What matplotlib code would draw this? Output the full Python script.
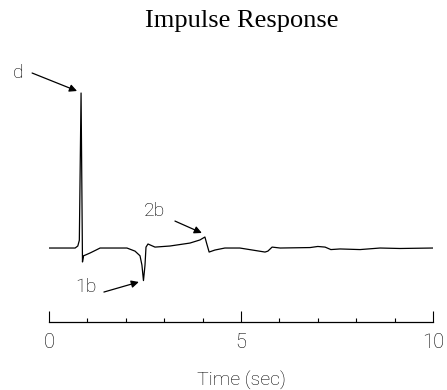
import matplotlib
matplotlib.use("Agg")
import matplotlib.pyplot as plt
from matplotlib.ticker import MultipleLocator

# --- data ---
time_sec = [0.0, 0.68, 0.75, 0.79, 0.835, 0.872, 0.90, 0.95, 1.07, 1.25, 1.33,
            2.03, 2.24, 2.37, 2.42, 2.46, 2.50, 2.526, 2.578, 2.76, 3.15, 3.67,
            3.93, 4.06, 4.11, 4.17, 4.32, 4.58, 4.97, 5.625, 5.70, 5.81, 6.02,
            6.8, 7.0, 7.19, 7.34, 7.58, 8.1, 8.62, 9.14, 10.0]
response = [0.0, 0.0, 0.013, 0.05, 1.0, -0.09, -0.05, -0.045, -0.032, -0.01, 0.0,
            0.0, -0.02, -0.05, -0.11, -0.21, -0.11, 0.006, 0.026, 0.006, 0.013, 0.032,
            0.052, 0.071, 0.026, -0.026, -0.013, 0.0, 0.0, -0.026, -0.02, 0.006, 0.0,
            0.003, 0.01, 0.006, -0.01, -0.006, -0.01, 0.0, -0.003, 0.0]

labels = ["d", "1b", "2b"]
label_pos = [(-0.81, 1.13), (0.96, -0.252), (2.76, 0.239)]
arrow_tail = [(-0.44, 1.129), (1.43, -0.284), (3.28, 0.174)]
arrow_tip = [(0.73, 1.013), (2.34, -0.219), (3.98, 0.097)]

x_major = [0, 5, 10]
title = "Impulse Response"
xlabel = "Time (sec)"

sans = ["Roboto", "DejaVu Sans"]

fig = plt.figure(figsize=(4.47, 3.90), dpi=100)
ax = fig.add_axes([49 / 447, (390 - 321.5) / 390, 384 / 447, (321.5 - 40) / 390])

ax.plot(time_sec, response, color="black", lw=0.9)
ax.set_xlim(0, 10)
ax.set_ylim(-0.474, 1.342)

for s in ["top", "right", "left"]:
    ax.spines[s].set_visible(False)
ax.spines["bottom"].set_linewidth(0.9)
ax.set_yticks([])
ax.set_xticks(x_major)
ax.xaxis.set_minor_locator(MultipleLocator(1))
ax.tick_params(axis="x", which="major", direction="in", length=8, width=0.8, pad=8)
ax.tick_params(axis="x", which="minor", direction="in", length=3, width=0.8)
for lab in ax.get_xticklabels():
    lab.set_family(sans)
    lab.set_fontweight("light")
    lab.set_fontsize(14.5)
    lab.set_color("black")

ax.set_xlabel(xlabel, family=sans, fontweight="light", fontsize=14, labelpad=14, color="black")

for name, pos, tail, tip in zip(labels, label_pos, arrow_tail, arrow_tip):
    ax.text(pos[0], pos[1], name, ha="center", va="center", family=sans,
            fontweight="light", fontsize=14, color="black", clip_on=False)
    ax.annotate("", xy=tip, xytext=tail,
                arrowprops=dict(arrowstyle="-|>", color="black", lw=0.9,
                                mutation_scale=11, shrinkA=0, shrinkB=0),
                annotation_clip=False)

fig.text(242 / 447, 1 - 21 / 390, title, ha="center", va="center",
         family="Liberation Serif", fontsize=19)

fig.savefig("out.png", dpi=100)
